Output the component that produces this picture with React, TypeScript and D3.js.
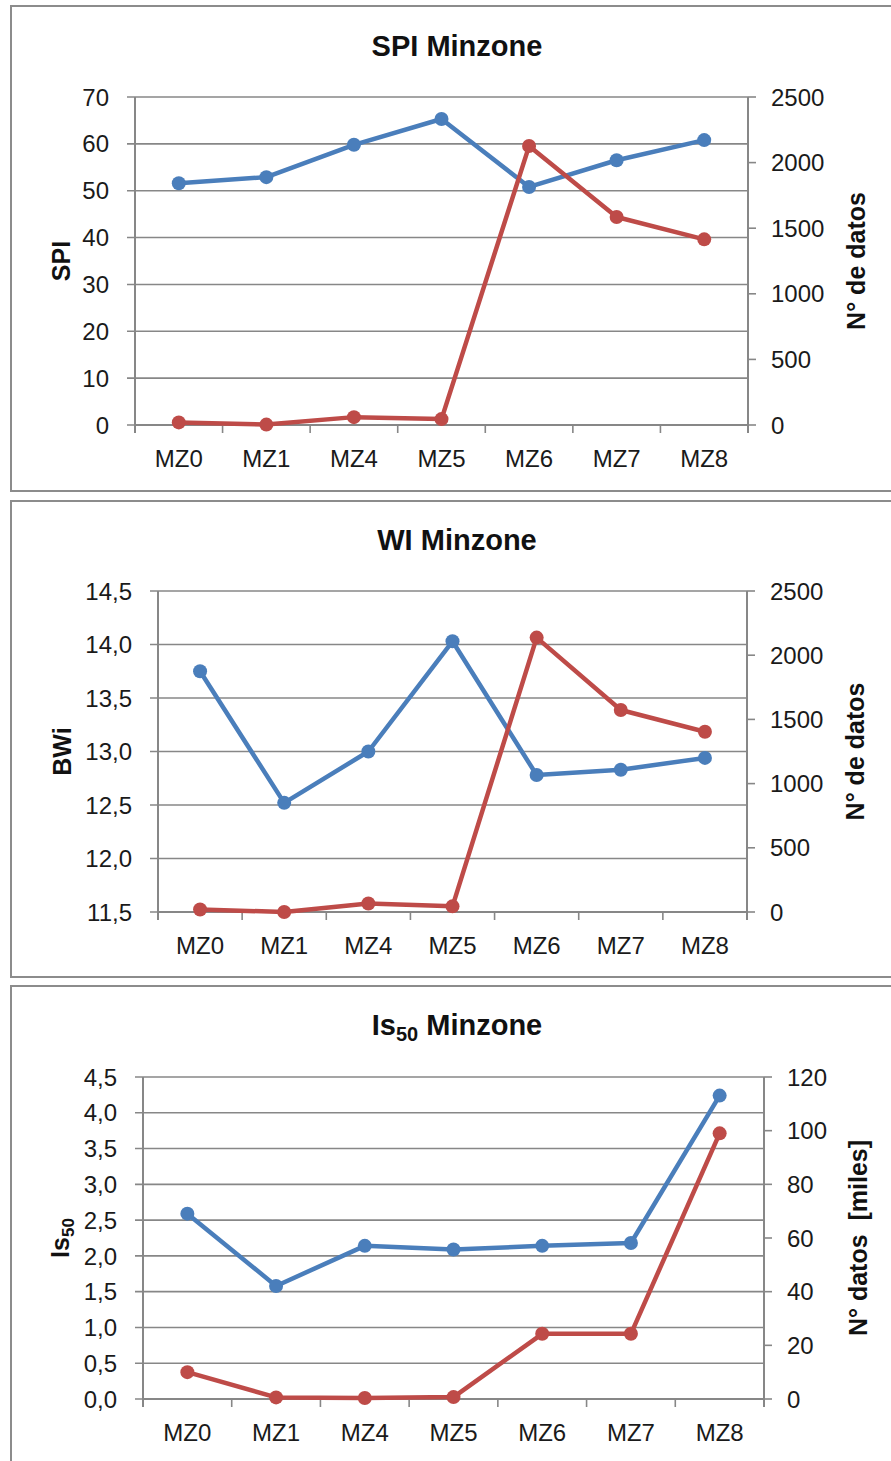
import * as d3 from "d3";

// categories shared by the three panels
const zones = ["MZ0", "MZ1", "MZ4", "MZ5", "MZ6", "MZ7", "MZ8"];

// SPI Minzone
const spiValues = [51.6, 52.9, 59.8, 65.3, 50.8, 56.5, 60.8];
const spiCount = [20, 3, 60, 45, 2126, 1585, 1415];
const spiLeftTicks = [0, 10, 20, 30, 40, 50, 60, 70];
const spiRightTicks = [0, 500, 1000, 1500, 2000, 2500];

// WI Minzone
const bwiValues = [13.75, 12.52, 13.0, 14.03, 12.78, 12.83, 12.94];
const bwiCount = [19, 0, 66, 44, 2137, 1573, 1404];
const bwiLeftTicks = [11.5, 12, 12.5, 13, 13.5, 14, 14.5];
const bwiRightTicks = [0, 500, 1000, 1500, 2000, 2500];

// Is50 Minzone
const isValues = [2.59, 1.58, 2.14, 2.09, 2.14, 2.18, 4.24];
const isCount = [10, 0.6, 0.4, 0.7, 24.3, 24.3, 99];
const isLeftTicks = [0, 0.5, 1, 1.5, 2, 2.5, 3, 3.5, 4, 4.5];
const isRightTicks = [0, 20, 40, 60, 80, 100, 120];

const BLUE = "#4a7ebb";
const RED = "#be4b48";
const GRID = "#878787";
const FONT = "'Liberation Sans', Arial, sans-serif";

const fmtComma = (v: number) => d3.format(".1f")(v).replace(".", ",");
const fmtInt = (v: number) => String(v);

interface PanelProps {
  frameTop: number;
  frameBottom: number;
  left: number;
  right: number;
  top: number;
  bottom: number;
  titleY: number;
  title: React.ReactNode;
  leftTitle: React.ReactNode;
  rightTitle: string;
  leftTitleX: number;
  rightTitleX: number;
  values: number[];
  counts: number[];
  leftTicks: number[];
  rightTicks: number[];
  leftFmt: (v: number) => string;
}

function Panel(p: PanelProps) {
  const x = d3.scaleBand<string>().domain(zones).range([p.left, p.right]).padding(0);
  const cx = (z: string) => x(z)! + x.bandwidth() / 2;
  const yL = d3
    .scaleLinear()
    .domain(d3.extent(p.leftTicks) as [number, number])
    .range([p.bottom, p.top]);
  const yR = d3
    .scaleLinear()
    .domain(d3.extent(p.rightTicks) as [number, number])
    .range([p.bottom, p.top]);

  const lineL = d3
    .line<number>()
    .x((_, i) => cx(zones[i]))
    .y((d) => yL(d));
  const lineR = d3
    .line<number>()
    .x((_, i) => cx(zones[i]))
    .y((d) => yR(d));

  const edges = [...zones.map((z) => x(z)!), p.right];
  const midY = (p.top + p.bottom) / 2;

  return (
    <g>
      <rect
        x={11}
        y={p.frameTop}
        width={900}
        height={p.frameBottom - p.frameTop}
        fill="#fff"
        stroke="#8c8c8c"
        strokeWidth={2}
      />
      <text
        x={457}
        y={p.titleY}
        textAnchor="middle"
        fontSize={29}
        fontWeight="bold"
        fontFamily={FONT}
        fill="#111"
      >
        {p.title}
      </text>

      {/* gridlines from left axis */}
      {p.leftTicks.map((t) => (
        <line
          key={"g" + t}
          x1={p.left - 8}
          x2={p.right}
          y1={yL(t)}
          y2={yL(t)}
          stroke={GRID}
          strokeWidth={1.6}
        />
      ))}
      {p.leftTicks.map((t) => (
        <text
          key={"l" + t}
          x={p.left - 26}
          y={yL(t)}
          dy="0.36em"
          textAnchor="end"
          fontSize={24}
          fontFamily={FONT}
          fill="#1a1a1a"
        >
          {p.leftFmt(t)}
        </text>
      ))}

      {/* right axis */}
      <line x1={p.right} x2={p.right} y1={p.top} y2={p.bottom + 8} stroke={GRID} strokeWidth={2} />
      {p.rightTicks.map((t) => (
        <g key={"r" + t}>
          <line x1={p.right} x2={p.right + 8} y1={yR(t)} y2={yR(t)} stroke={GRID} strokeWidth={1.6} />
          <text
            x={p.right + 23}
            y={yR(t)}
            dy="0.36em"
            fontSize={24}
            fontFamily={FONT}
            fill="#1a1a1a"
          >
            {fmtInt(t)}
          </text>
        </g>
      ))}

      {/* left axis + category axis */}
      <line x1={p.left} x2={p.left} y1={p.top} y2={p.bottom + 8} stroke={GRID} strokeWidth={2} />
      <line x1={p.left} x2={p.right} y1={p.bottom} y2={p.bottom} stroke={GRID} strokeWidth={2} />
      {edges.map((e, i) => (
        <line key={"e" + i} x1={e} x2={e} y1={p.bottom} y2={p.bottom + 8} stroke={GRID} strokeWidth={1.6} />
      ))}
      {zones.map((z) => (
        <text
          key={"z" + z}
          x={cx(z)}
          y={p.bottom + 42}
          textAnchor="middle"
          fontSize={24}
          fontFamily={FONT}
          fill="#1a1a1a"
        >
          {z}
        </text>
      ))}

      {/* axis titles */}
      <text
        transform={`translate(${p.leftTitleX},${midY}) rotate(-90)`}
        textAnchor="middle"
        dy="0.35em"
        fontSize={25}
        fontWeight="bold"
        fontFamily={FONT}
        fill="#111"
      >
        {p.leftTitle}
      </text>
      <text
        transform={`translate(${p.rightTitleX},${midY}) rotate(-90)`}
        textAnchor="middle"
        dy="0.35em"
        fontSize={25}
        fontWeight="bold"
        fontFamily={FONT}
        fill="#111"
        style={{ whiteSpace: "pre" }}
      >
        {p.rightTitle}
      </text>

      {/* series */}
      <path d={lineL(p.values)!} fill="none" stroke={BLUE} strokeWidth={4.5} strokeLinejoin="round" />
      {p.values.map((v, i) => (
        <circle key={"b" + i} cx={cx(zones[i])} cy={yL(v)} r={7} fill={BLUE} />
      ))}
      <path d={lineR(p.counts)!} fill="none" stroke={RED} strokeWidth={4.5} strokeLinejoin="round" />
      {p.counts.map((v, i) => (
        <circle key={"c" + i} cx={cx(zones[i])} cy={yR(v)} r={7} fill={RED} />
      ))}
    </g>
  );
}

export default function App() {
  return (
    <svg
      width={891}
      height={1461}
      viewBox="0 0 891 1461"
      style={{ position: "absolute", left: 0, top: 0, background: "#fff" }}
    >
      <Panel
        frameTop={6}
        frameBottom={491}
        left={135}
        right={748}
        top={97}
        bottom={425}
        titleY={56}
        title="SPI Minzone"
        leftTitle="SPI"
        rightTitle="N° de datos"
        leftTitleX={61}
        rightTitleX={856}
        values={spiValues}
        counts={spiCount}
        leftTicks={spiLeftTicks}
        rightTicks={spiRightTicks}
        leftFmt={fmtInt}
      />
      <Panel
        frameTop={501}
        frameBottom={977}
        left={158}
        right={747}
        top={591}
        bottom={912}
        titleY={550}
        title="WI Minzone"
        leftTitle="BWi"
        rightTitle="N° de datos"
        leftTitleX={62}
        rightTitleX={855}
        values={bwiValues}
        counts={bwiCount}
        leftTicks={bwiLeftTicks}
        rightTicks={bwiRightTicks}
        leftFmt={fmtComma}
      />
      <Panel
        frameTop={986}
        frameBottom={1480}
        left={143}
        right={764}
        top={1077}
        bottom={1399}
        titleY={1035}
        title={
          <>
            Is
            <tspan fontSize={20} dy={6}>
              50
            </tspan>
            <tspan dy={-6}> Minzone</tspan>
          </>
        }
        leftTitle={
          <>
            Is
            <tspan fontSize={17} dy={5}>
              50
            </tspan>
          </>
        }
        rightTitle="N° datos  [miles]"
        leftTitleX={60}
        rightTitleX={858}
        values={isValues}
        counts={isCount}
        leftTicks={isLeftTicks}
        rightTicks={isRightTicks}
        leftFmt={fmtComma}
      />
    </svg>
  );
}
